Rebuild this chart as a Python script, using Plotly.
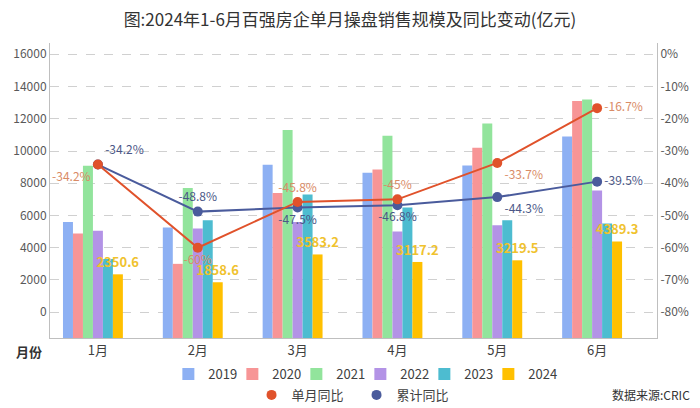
import plotly.graph_objects as go

months = ["1月", "2月", "3月", "4月", "5月", "6月"]
years = ["2019", "2020", "2021", "2022", "2023", "2024"]
sales_2019 = [5600, 5250, 9150, 8650, 9100, 10900]
sales_2020 = [4880, 3000, 7400, 8850, 10200, 13100]
sales_2021 = [9080, 7700, 11300, 10950, 11700, 13200]
sales_2022 = [5050, 5200, 5600, 5000, 5400, 7550]
sales_2023 = [3300, 5700, 7300, 6500, 5700, 5500]
sales_2024 = [2350.6, 1858.6, 3583.2, 3117.2, 3219.5, 4389.3]
monthly_yoy = [-34.2, -60, -45.8, -45, -33.7, -16.7]
cumulative_yoy = [-34.2, -48.8, -47.5, -46.8, -44.3, -39.5]
left_ticks = [0, 2000, 4000, 6000, 8000, 10000, 12000, 14000, 16000]
right_ticks = [0, -10, -20, -30, -40, -50, -60, -70, -80]

series = [sales_2019, sales_2020, sales_2021, sales_2022, sales_2023, sales_2024]
bar_colors = ["#8DB0F3", "#F79596", "#92E49C", "#B393E6", "#4DBCD0", "#FFC000"]

YMIN, YMAX = -1600, 16700
FONT = "Noto Sans CJK SC"
x = list(range(len(months)))

fig = go.Figure()
for yr, vals, col in zip(years, series, bar_colors):
    is24 = yr == "2024"
    fig.add_trace(go.Bar(
        x=x, y=[v - YMIN for v in vals], base=YMIN, name=yr,
        marker=dict(color=col, line=dict(width=0)),
        text=[f"{v}" for v in vals] if is24 else None,
        textposition="outside" if is24 else None,
        textfont=dict(color="#F0C22E", size=13, family=FONT, weight="bold"),
        constraintext="none", cliponaxis=False,
        legend="legend", hoverinfo="skip",
    ))
# spacer entry so the last legend label is not clipped (legend-only, invisible)
fig.add_trace(go.Bar(x=[None], y=[None], name=" ",
                     marker=dict(color="rgba(0,0,0,0)", line=dict(width=0, color="rgba(0,0,0,0)")),
                     legend="legend", hoverinfo="skip"))

red = "#E0522B"
blue = "#4A5B9C"
fig.add_trace(go.Scatter(
    x=x, y=cumulative_yoy, yaxis="y2", mode="lines+markers+text",
    line=dict(color=blue, width=2), marker=dict(size=10, color=blue),
    text=[f"{v:g}%" for v in cumulative_yoy],
    textposition=["top right", "top center", "bottom center", "bottom center", "bottom right", "middle right"],
    textfont=dict(color="#4B5787", size=12, family=FONT),
    showlegend=False, cliponaxis=False,
))
fig.add_trace(go.Scatter(
    x=x, y=monthly_yoy, yaxis="y2", mode="lines+markers+text",
    line=dict(color=red, width=2), marker=dict(size=10, color=red),
    text=[f"{v:g}%" for v in monthly_yoy],
    textposition=["bottom left", "bottom center", "top center", "top center", "bottom right", "middle right"],
    textfont=dict(color="#D98B66", size=12, family=FONT),
    showlegend=False, cliponaxis=False,
))
# legend entries for the lines (marker only, as in the reference)
fig.add_trace(go.Scatter(x=[None], y=[None], yaxis="y2", mode="markers", name="单月同比",
                         marker=dict(size=10, color=red), legend="legend2"))
fig.add_trace(go.Scatter(x=[None], y=[None], yaxis="y2", mode="markers", name="累计同比",
                         marker=dict(size=10, color=blue), legend="legend2"))

fig.update_layout(
    width=700, height=408,
    margin=dict(l=50, r=43, t=43, b=70, autoexpand=False),
    paper_bgcolor="white", plot_bgcolor="white",
    font=dict(family=FONT, size=12, color="#595959"),
    title=dict(text="图:2024年1-6月百强房企单月操盘销售规模及同比变动(亿元)",
               x=0.5, xanchor="center", y=0.95, yanchor="middle", yref="container",
               font=dict(size=17, color="#333333", family=FONT)),
    barmode="group", bargap=0.3, bargroupgap=0,
    xaxis=dict(range=[-0.48, 5.6], tickvals=x, ticktext=months, showgrid=False,
               showline=True, linecolor="#BFBFBF", linewidth=1, ticks="",
               tickfont=dict(size=13, color="#404040"), zeroline=False, fixedrange=True),
    yaxis=dict(range=[YMIN, YMAX], tickvals=left_ticks, ticktext=[str(v) for v in left_ticks],
               showgrid=True, gridcolor="#D0D0D0",
               griddash="dash", gridwidth=1, showline=True, linecolor="#BFBFBF", linewidth=1,
               zeroline=False, ticks="", tickfont=dict(size=12, color="#595959")),
    yaxis2=dict(range=[YMIN / 200 - 80, YMAX / 200 - 80], overlaying="y", side="right",
                tickvals=right_ticks, ticktext=[f"{v}%" for v in right_ticks],
                showgrid=False, showline=True,
                linecolor="#BFBFBF", linewidth=1, zeroline=False, ticks="",
                tickfont=dict(size=12, color="#595959")),
    legend=dict(orientation="h", x=0.195, xanchor="left", y=0.083, yanchor="middle",
                yref="container",
                font=dict(size=13, color="#404040"), itemwidth=30,
                entrywidth=19, entrywidthmode="pixels", traceorder="normal"),
    legend2=dict(orientation="h", x=0.505, xanchor="center", y=0.032, yanchor="middle",
                 yref="container",
                 font=dict(size=13, color="#404040"), itemwidth=30,
                 entrywidth=60, entrywidthmode="pixels"),
    annotations=[
        dict(text="<b>月份</b>", x=-0.035, y=-0.047, xref="paper", yref="paper",
             xanchor="center", yanchor="middle", showarrow=False,
             font=dict(size=13, color="#333333")),
        dict(text="数据来源:CRIC", x=1.057, y=-0.193, xref="paper", yref="paper",
             xanchor="right", yanchor="middle", showarrow=False,
             font=dict(size=12, color="#333333")),
    ],
)

fig.write_html("out.html", config={"displayModeBar": False},
               post_script="document.body.style.margin='0';")
